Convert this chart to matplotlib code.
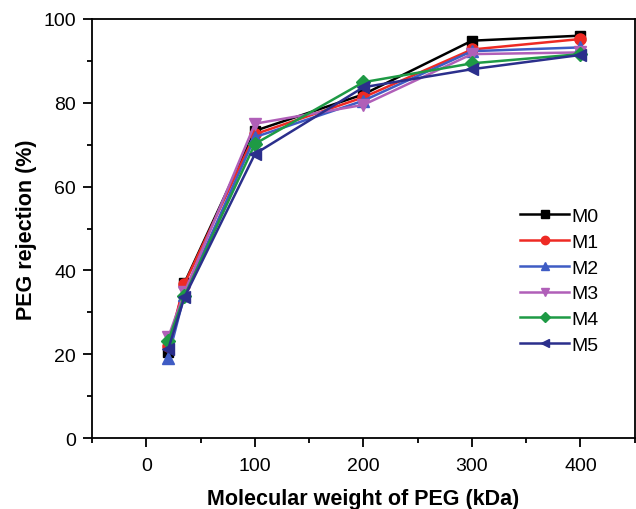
import matplotlib
matplotlib.use("Agg")
import matplotlib.pyplot as plt
from matplotlib.ticker import MultipleLocator

plt.rcParams['font.family'] = ['Liberation Sans', 'DejaVu Sans']

mw = [20, 35, 100, 200, 300, 400]
labels = ["M0", "M1", "M2", "M3", "M4", "M5"]
M0 = [20.5, 37.0, 73.3, 82.0, 94.8, 96.0]
M1 = [22.0, 36.8, 72.5, 81.3, 92.7, 95.2]
M2 = [19.2, 34.2, 71.8, 80.5, 92.3, 93.2]
M3 = [24.0, 34.8, 75.0, 79.5, 91.6, 92.0]
M4 = [23.2, 33.9, 70.2, 84.9, 89.4, 91.6]
M5 = [21.2, 33.6, 67.8, 83.7, 88.0, 91.4]
series = [M0, M1, M2, M3, M4, M5]
colors = ["#000000", "#ee2a24", "#3f5cc4", "#b05fb8", "#1e9a45", "#2b2f8c"]
markers = ["s", "o", "^", "v", "D", "<"]
msizes = [7, 8, 8, 8, 7, 8]

fig = plt.figure(figsize=(6.36, 5.10), dpi=100)
ax = fig.add_axes([0.145, 0.139, 0.853, 0.822])
for lab, ys, c, m, ms in zip(labels, series, colors, markers, msizes):
    ax.plot(mw, ys, color=c, marker=m, markersize=ms, linewidth=1.8, label=lab)

ax.set_xlim(-50, 450)
ax.set_ylim(0, 100)
ax.xaxis.set_major_locator(MultipleLocator(100))
ax.xaxis.set_minor_locator(MultipleLocator(50))
ax.yaxis.set_major_locator(MultipleLocator(20))
ax.yaxis.set_minor_locator(MultipleLocator(10))
ax.tick_params(which='major', direction='out', length=6.5, width=1.3, labelsize=14)
ax.tick_params(which='minor', direction='out', length=3.8, width=1.3)
ax.tick_params(axis='x', which='major', pad=7)
ax.tick_params(axis='y', which='major', pad=5)
for s in ax.spines.values():
    s.set_linewidth(1.3)
ax.set_xlabel("Molecular weight of PEG (kDa)", fontsize=15.5, fontweight='bold', labelpad=10)
ax.set_ylabel("PEG rejection (%)", fontsize=15.5, fontweight='bold', labelpad=5)
ax.legend(loc='upper left', bbox_to_anchor=(0.789, 0.55), frameon=False, fontsize=14,
          handlelength=2.5, labelspacing=0.42, handletextpad=0.15, markerscale=0.75,
          borderpad=0, borderaxespad=0)
fig.savefig("out.png", dpi=100)
